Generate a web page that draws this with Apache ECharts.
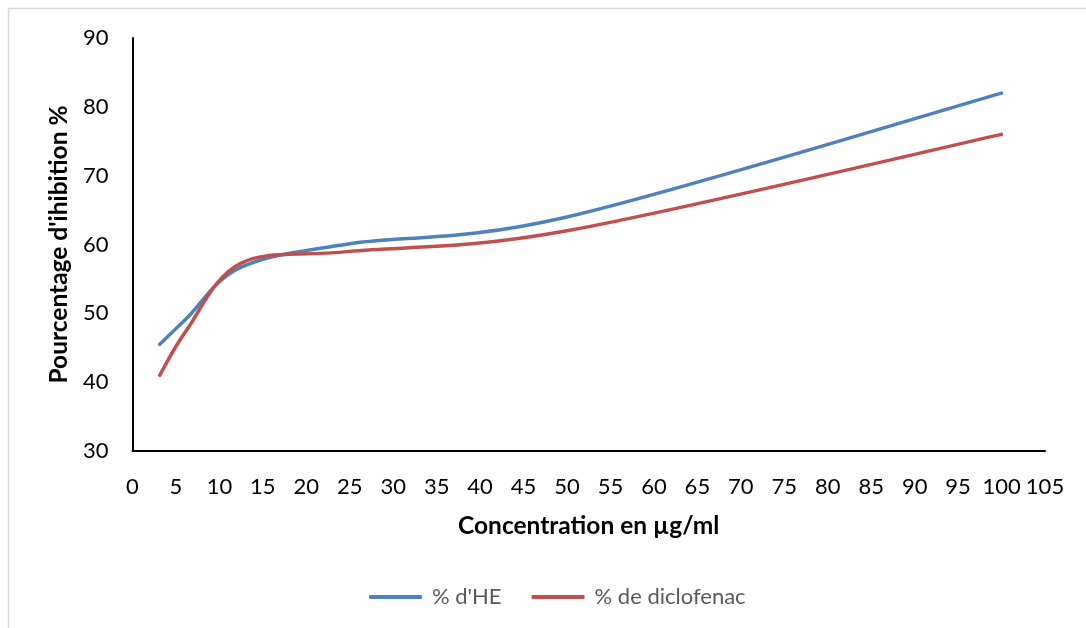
<!DOCTYPE html>
<html>
<head>
<meta charset="utf-8">
<script src="https://cdn.jsdelivr.net/npm/echarts@6/dist/echarts.min.js"></script>
<style>
  html, body { margin: 0; padding: 0; background: #ffffff; }
  #chart { width: 1086px; height: 628px; }
</style>
</head>
<body>
<div id="chart"></div>
<script>
// Concentrations (µg/ml) and inhibition percentages
var concentrations = [3.125, 6.25, 12.5, 25, 50, 100];
var inhibitionHE = [45.5, 49.3, 56.7, 60.1, 64.0, 82.0];
var inhibitionDiclofenac = [41.0, 47.6, 57.3, 59.0, 62.0, 76.0];
var seriesNames = ["% d'HE", '% de diclofenac'];
var seriesColors = ['#4F81BD', '#C0504D'];

function pairs(xs, ys) {
  return xs.map(function (x, i) { return [x, ys[i]]; });
}

// Smooth curve through the points (Catmull-Rom segments as cubic Béziers)
function smoothPath(pts) {
  var d = 'M' + pts[0][0] + ',' + pts[0][1];
  for (var i = 0; i < pts.length - 1; i++) {
    var p0 = pts[Math.max(i - 1, 0)];
    var p1 = pts[i];
    var p2 = pts[i + 1];
    var p3 = pts[Math.min(i + 2, pts.length - 1)];
    var c1x = p1[0] + (p2[0] - p0[0]) / 6;
    var c1y = p1[1] + (p2[1] - p0[1]) / 6;
    var c2x = p2[0] - (p3[0] - p1[0]) / 6;
    var c2y = p2[1] - (p3[1] - p1[1]) / 6;
    d += ' C' + c1x + ',' + c1y + ' ' + c2x + ',' + c2y + ' ' + p2[0] + ',' + p2[1];
  }
  return d;
}

function curveSeries(name, color, xs, ys) {
  return {
    name: name,
    type: 'custom',
    coordinateSystem: 'cartesian2d',
    itemStyle: { color: color },
    data: pairs(xs, ys),
    renderItem: function (params, api) {
      if (params.dataIndex !== 0) { return null; }
      var pts = xs.map(function (x, i) { return api.coord([x, ys[i]]); });
      return {
        type: 'path',
        shape: { pathData: smoothPath(pts) },
        style: { fill: 'none', stroke: color, lineWidth: 3.5, lineCap: 'round', lineJoin: 'round' }
      };
    }
  };
}

var FONT = 'Lato, "Open Sans", sans-serif';
var chart = echarts.init(document.getElementById('chart'), null, { renderer: 'canvas' });

chart.setOption({
  animation: false,
  backgroundColor: '#ffffff',
  color: seriesColors,
  graphic: [
    { type: 'line', shape: { x1: 8.5, y1: 8, x2: 8.5, y2: 628 }, style: { stroke: '#d9d9d9', lineWidth: 1.5 } },
    { type: 'line', shape: { x1: 8, y1: 8.5, x2: 1086, y2: 8.5 }, style: { stroke: '#d9d9d9', lineWidth: 1.5 } }
  ],
  grid: { left: 132.5, right: 41, top: 38, bottom: 177, containLabel: false },
  legend: {
    bottom: 15,
    left: 364,
    itemWidth: 53,
    itemHeight: 4,
    itemGap: 30,
    icon: 'roundRect',
    textStyle: { fontFamily: FONT, fontSize: 22, color: '#595959', padding: [0, 0, 0, 5] },
    data: seriesNames.map(function (n, i) { return { name: n, itemStyle: { color: seriesColors[i] } }; })
  },
  xAxis: {
    type: 'value',
    min: 0,
    max: 105,
    interval: 5,
    name: 'Concentration en µg/ml',
    nameLocation: 'middle',
    nameGap: 63,
    nameTextStyle: { fontFamily: FONT, fontSize: 24.5, fontWeight: 'bold', color: '#000000' },
    axisLine: { show: true, onZero: false, lineStyle: { color: '#000000', width: 2 } },
    axisTick: { show: false },
    splitLine: { show: false },
    axisLabel: { margin: 25, fontFamily: FONT, fontSize: 22, color: '#000000' }
  },
  yAxis: {
    type: 'value',
    min: 30,
    max: 90,
    interval: 10,
    name: "Pourcentage d'ihibition %",
    nameLocation: 'middle',
    nameGap: 60,
    nameTextStyle: { fontFamily: FONT, fontSize: 24.5, fontWeight: 'bold', color: '#000000' },
    axisLine: { show: true, lineStyle: { color: '#000000', width: 2 } },
    axisTick: { show: false },
    splitLine: { show: false },
    axisLabel: { margin: 24, fontFamily: FONT, fontSize: 22, color: '#000000' }
  },
  series: [
    curveSeries(seriesNames[0], seriesColors[0], concentrations, inhibitionHE),
    curveSeries(seriesNames[1], seriesColors[1], concentrations, inhibitionDiclofenac)
  ]
});
</script>
</body>
</html>
